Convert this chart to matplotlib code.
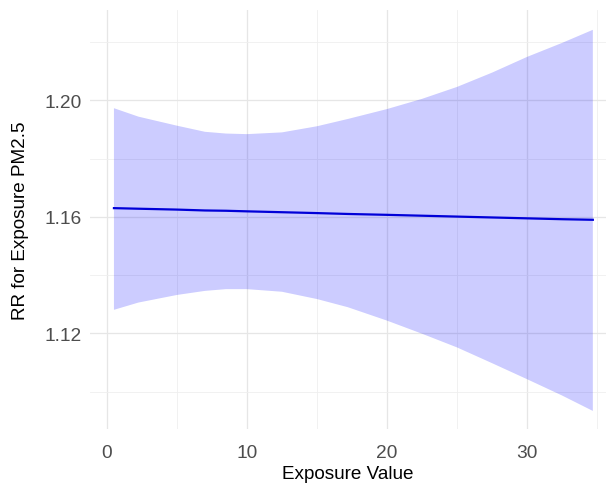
import matplotlib
matplotlib.use("Agg")
import matplotlib.pyplot as plt
from matplotlib.ticker import FixedLocator

# Data
exposure = [0.5, 2.25, 5.0, 7.0, 8.5, 10.0, 12.5, 15.0, 17.2, 20.0, 22.5, 25.0, 27.5, 30.0, 32.5, 34.7]
rr_mean = [1.1630, 1.1628, 1.1625, 1.1622, 1.1621, 1.1619, 1.1616, 1.1613, 1.1610,
           1.1607, 1.1604, 1.1601, 1.1598, 1.1595, 1.1592, 1.1590]
rr_upper = [1.1973, 1.1944, 1.1913, 1.1892, 1.1886, 1.1884, 1.1890, 1.1911, 1.1936,
            1.1970, 1.2005, 1.2046, 1.2095, 1.2149, 1.2197, 1.2242]
rr_lower = [1.1281, 1.1306, 1.1332, 1.1346, 1.1352, 1.1352, 1.1343, 1.1318, 1.1290,
            1.1244, 1.1199, 1.1152, 1.1098, 1.1043, 1.0987, 1.0934]

x_major = [0, 10, 20, 30]
x_minor = [5, 15, 25, 35]
y_major = [1.12, 1.16, 1.20]
y_minor = [1.10, 1.14, 1.18, 1.22]

plt.rcParams['font.family'] = ['Liberation Sans', 'DejaVu Sans']

W, H = 608, 485
fig = plt.figure(figsize=(W / 100, H / 100), dpi=100)
left, right, top, bottom = 90, 606, 11, 430
ax = fig.add_axes([left / W, 1 - bottom / H, (right - left) / W, (bottom - top) / H])

ax.fill_between(exposure, rr_lower, rr_upper, facecolor='blue', alpha=0.2,
                linewidth=0, zorder=2)
ax.plot(exposure, rr_mean, color='#0000D8', linewidth=1.6, zorder=3)

ax.set_xlim(-1.21, 35.64)
ax.set_ylim(1.0872, 1.2310)

ax.xaxis.set_major_locator(FixedLocator(x_major))
ax.xaxis.set_minor_locator(FixedLocator(x_minor))
ax.yaxis.set_major_locator(FixedLocator(y_major))
ax.yaxis.set_minor_locator(FixedLocator(y_minor))
ax.set_yticklabels([f"{v:.2f}" for v in y_major])
ax.set_xticklabels([str(v) for v in x_major])

ax.grid(which='major', color='#E6E6E6', linewidth=0.9, zorder=0)
ax.grid(which='minor', color='#EFEFEF', linewidth=0.6, zorder=0)
ax.set_axisbelow(True)
for s in ax.spines.values():
    s.set_visible(False)
ax.tick_params(which='both', length=0)
ax.tick_params(axis='x', labelsize=13.8, labelcolor='#4D4D4D', pad=11)
ax.tick_params(axis='y', labelsize=13.8, labelcolor='#4D4D4D', pad=6)

ax.set_xlabel("Exposure Value", fontsize=13.6, color='black', labelpad=3)
ax.set_ylabel("RR for Exposure PM2.5", fontsize=13.6, color='black', labelpad=11)

fig.savefig("out.png", dpi=100, facecolor='white')
